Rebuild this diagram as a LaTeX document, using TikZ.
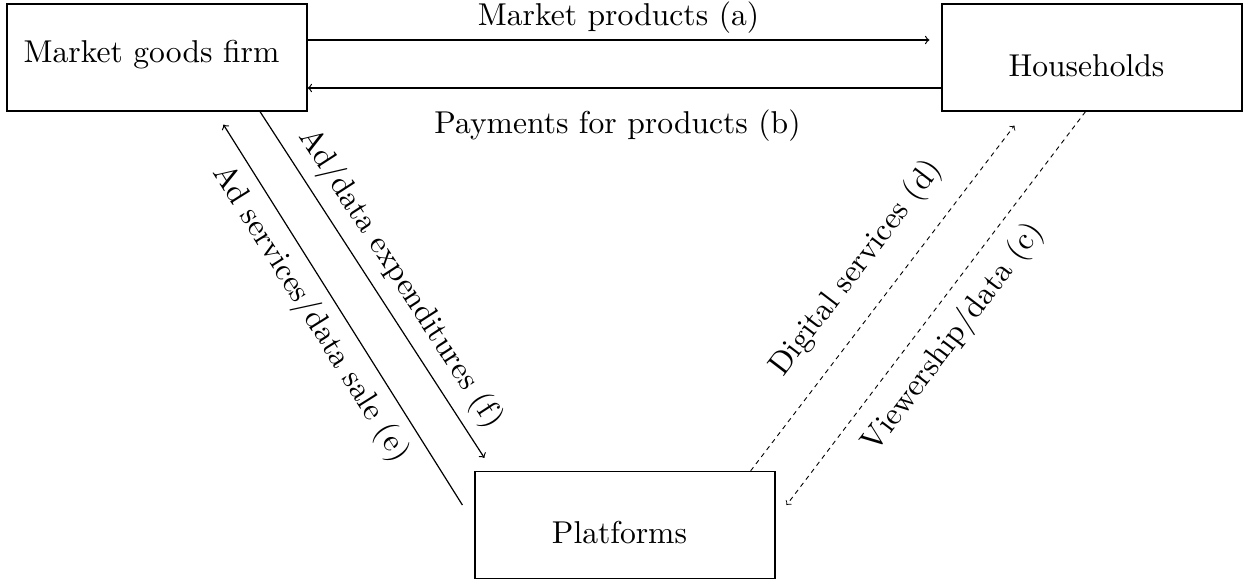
\documentclass[tikz,border=0pt]{standalone}
\usetikzlibrary{calc}
\newcommand{\T}[1]{\scalebox{1.58}{#1}}
\begin{document}
\begin{tikzpicture}[x=0.5pt,y=-0.5pt, line width=0.6pt,
  box/.style={draw, minimum width=150pt, minimum height=53.5pt, inner sep=0pt,
    font=\fontsize{10}{12}\selectfont, execute at end node={\hspace*{5.5pt}}},
  lbl/.style={font=\fontsize{10}{12}\selectfont, inner sep=5.27pt},
  flow/.style={->},
  dflow/.style={->, line width=0.45pt, dash pattern=on 2.3pt off 2.1pt}]
\useasboundingbox (0,0) rectangle (1247,584);
\node[box, text height=8pt, text depth=3.5pt] (firm) at (157,57.5) {\T{Market goods firm}};
\node[box, text height=18.5pt, text depth=0pt] (hh) at (1092,57.5) {\T{Households}};
\node[box, text height=18pt, text depth=0pt] (plat) at (625,525) {\T{Platforms}};
% (a)
\draw[flow] ([yshift=8.75pt]firm.east) -- ([yshift=8.75pt,xshift=-6pt]hh.west)
  node[lbl, midway, above=-2.2pt] {\T{Market products (a)}};
% (b)
\draw[flow] ([yshift=-15.25pt]hh.west) -- ([yshift=-15.25pt]firm.east)
  node[lbl, pos=0.511, below=5.5pt] {\T{Payments for products (b)}};
% (f)
\draw[flow] ([xshift=51.5pt]firm.south) -- ([xshift=5pt,yshift=6.5pt]plat.north west)
  node[lbl, sloped, pos=0.525, above] {\T{Ad/data expenditures (f)}};
% (e)
\draw[<-] ([xshift=108.5pt,yshift=-6.5pt]firm.south west) -- ([xshift=-6pt,yshift=10pt]plat.west)
  node[lbl, sloped, pos=0.46, below] {\T{Ad services/data sale (e)}};
% (d)
\draw[dflow] ([xshift=-12.5pt]plat.north east) -- ([xshift=36.5pt,yshift=-7pt]hh.south west)
  node[lbl, sloped, pos=0.518, above=6pt] {\T{Digital services (d)}};
% (c)
\draw[dflow] ([xshift=-3.25pt]hh.south) -- ([xshift=5.5pt,yshift=10pt]plat.east)
  node[lbl, sloped, pos=0.526, below=2.5pt] {\T{Viewership/data (c)}};
\end{tikzpicture}
\end{document}
